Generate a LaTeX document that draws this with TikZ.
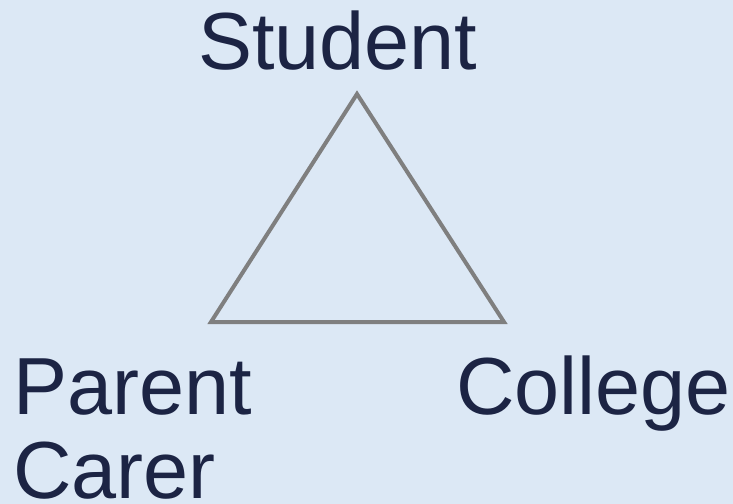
\documentclass[tikz,border=0pt]{standalone}
\usepackage{fontspec}
\setmainfont{Liberation Sans}
\definecolor{bgc}{HTML}{DCE8F5}
\definecolor{txt}{HTML}{1C2444}
\definecolor{tri}{HTML}{7F7F7F}
\begin{document}
\begin{tikzpicture}[x=1bp,y=-1bp,
  lab/.style={anchor=base west,inner sep=0pt,text=txt,font=\fontsize{81bp}{84bp}\selectfont,align=left}]
\fill[bgc] (0,0) rectangle (733,504);
\useasboundingbox (0,0) rectangle (733,504);
\coordinate (top) at (357,94);
\coordinate (bl) at (211,322);
\coordinate (br) at (504,322);
\draw[tri,line width=4bp,line join=miter] (top) -- (br) -- (bl) -- cycle;
\node[lab] (student) at (198,70) {Student};
\node[lab] (parent) at (13,414) {Parent};
\node[lab] (carer) at (13,498) {Carer};
\node[lab] (college) at (456,414) {College};
\end{tikzpicture}
\end{document}
